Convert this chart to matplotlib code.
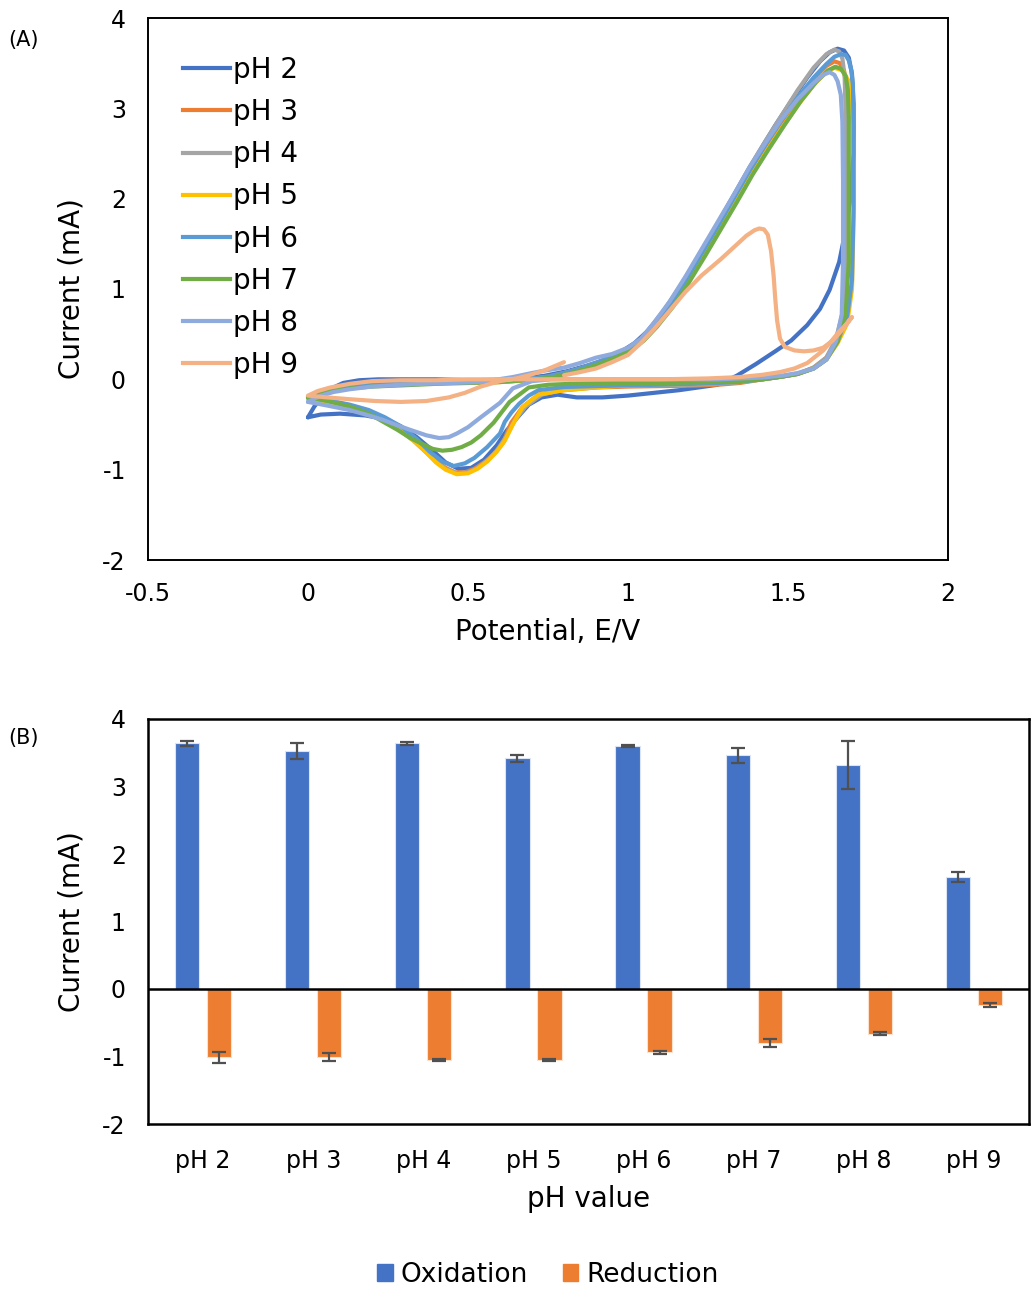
import matplotlib
matplotlib.use("Agg")
import matplotlib.pyplot as plt
from matplotlib.lines import Line2D
from matplotlib.patches import Patch
from matplotlib.ticker import FuncFormatter
import numpy as np

plt.rcParams["font.family"] = ["DejaVu Sans"]
plt.rcParams["axes.unicode_minus"] = False

#Voltametrias ciclicas: potencial (V) e corrente (mA) para cada pH
ph2_E = [0.00, 0.04, 0.10, 0.18, 0.24, 0.29, 0.34, 0.39, 0.43, 0.47, 0.51, 0.55, 0.59, 0.62, 0.65, 0.69, 0.73, 0.78, 0.84, 0.92,
         1.00, 1.08, 1.16, 1.22, 1.28, 1.34, 1.40, 1.46, 1.51, 1.56, 1.60, 1.63, 1.66, 1.68, 1.695, 1.705, 1.705, 1.70, 1.69, 1.675,
         1.655, 1.63, 1.60, 1.56, 1.51, 1.46, 1.41, 1.36, 1.31, 1.26, 1.21, 1.16, 1.11, 1.06, 1.02, 0.98, 0.93, 0.87, 0.81, 0.74,
         0.65, 0.52, 0.40, 0.30, 0.22, 0.16, 0.11, 0.08, 0.05, 0.02, 0.00]
ph2_I = [-0.42, -0.39, -0.38, -0.40, -0.44, -0.52, -0.64, -0.79, -0.92, -0.99, -0.98, -0.89, -0.73, -0.57, -0.44, -0.28, -0.20, -0.17, -0.20, -0.20,
         -0.18, -0.15, -0.12, -0.09, -0.06, 0.04, 0.17, 0.31, 0.43, 0.60, 0.78, 0.99, 1.30, 1.65, 2.00, 2.50, 3.05, 3.38, 3.56, 3.64,
         3.66, 3.62, 3.52, 3.34, 3.08, 2.81, 2.52, 2.22, 1.91, 1.60, 1.30, 1.01, 0.75, 0.53, 0.40, 0.31, 0.22, 0.15, 0.09, 0.04,
         0.00, -0.01, 0.00, 0.00, 0.00, -0.01, -0.04, -0.09, -0.17, -0.30, -0.42]

ph3_E = [0.00, 0.06, 0.13, 0.19, 0.24, 0.29, 0.33, 0.37, 0.40, 0.43, 0.46, 0.49, 0.52, 0.55, 0.58, 0.61, 0.635, 0.67, 0.72, 0.80,
         0.90, 1.00, 1.10, 1.20, 1.28, 1.35, 1.42, 1.48, 1.53, 1.58, 1.62, 1.655, 1.68, 1.685, 1.685, 1.685, 1.682, 1.675, 1.662, 1.645,
         1.62, 1.58, 1.53, 1.48, 1.43, 1.38, 1.33, 1.28, 1.23, 1.18, 1.13, 1.08, 1.04, 1.00, 0.95, 0.90, 0.85, 0.80, 0.75, 0.68,
         0.60, 0.50, 0.40, 0.30, 0.20, 0.13, 0.08, 0.04, 0.00]
ph3_I = [-0.20, -0.24, -0.29, -0.37, -0.46, -0.56, -0.67, -0.80, -0.90, -0.98, -1.03, -1.03, -0.99, -0.92, -0.83, -0.70, -0.48, -0.31, -0.17, -0.12,
         -0.09, -0.08, -0.075, -0.07, -0.06, -0.04, 0.00, 0.03, 0.06, 0.13, 0.24, 0.45, 0.75, 1.30, 2.20, 2.90, 3.25, 3.42, 3.50, 3.52,
         3.47, 3.33, 3.10, 2.84, 2.57, 2.28, 1.97, 1.67, 1.37, 1.08, 0.81, 0.58, 0.43, 0.32, 0.24, 0.17, 0.11, 0.06, 0.02, -0.01,
         -0.03, -0.04, -0.04, -0.05, -0.06, -0.08, -0.11, -0.15, -0.20]

ph4_E = [0.00, 0.06, 0.13, 0.19, 0.24, 0.29, 0.33, 0.37, 0.40, 0.43, 0.465, 0.50, 0.53, 0.56, 0.59, 0.62, 0.645, 0.68, 0.73, 0.80,
         0.90, 1.00, 1.10, 1.20, 1.28, 1.35, 1.42, 1.48, 1.53, 1.58, 1.62, 1.65, 1.672, 1.68, 1.68, 1.68, 1.677, 1.67, 1.66, 1.645,
         1.62, 1.58, 1.53, 1.48, 1.43, 1.38, 1.33, 1.28, 1.23, 1.18, 1.13, 1.08, 1.04, 1.00, 0.95, 0.90, 0.85, 0.80, 0.75, 0.68,
         0.60, 0.50, 0.40, 0.30, 0.20, 0.13, 0.08, 0.04, 0.00]
ph4_I = [-0.19, -0.23, -0.29, -0.37, -0.46, -0.57, -0.68, -0.81, -0.91, -0.99, -1.04, -1.03, -0.98, -0.90, -0.79, -0.63, -0.46, -0.30, -0.17, -0.11,
         -0.08, -0.07, -0.065, -0.06, -0.05, -0.03, 0.00, 0.03, 0.06, 0.13, 0.24, 0.45, 0.75, 1.30, 2.20, 2.95, 3.35, 3.55, 3.63, 3.65,
         3.60, 3.45, 3.20, 2.92, 2.64, 2.35, 2.03, 1.72, 1.42, 1.12, 0.84, 0.60, 0.44, 0.33, 0.25, 0.18, 0.12, 0.07, 0.03, 0.00,
         -0.02, -0.03, -0.03, -0.04, -0.05, -0.07, -0.10, -0.14, -0.19]

ph5_E = [0.00, 0.06, 0.13, 0.19, 0.24, 0.29, 0.33, 0.37, 0.40, 0.43, 0.465, 0.50, 0.53, 0.56, 0.59, 0.615, 0.64, 0.67, 0.72, 0.80,
         0.90, 1.00, 1.10, 1.20, 1.28, 1.35, 1.42, 1.48, 1.53, 1.58, 1.62, 1.655, 1.685, 1.70, 1.705, 1.705, 1.70, 1.69, 1.67, 1.645,
         1.62, 1.58, 1.53, 1.48, 1.43, 1.38, 1.33, 1.28, 1.23, 1.18, 1.13, 1.08, 1.04, 1.00, 0.95, 0.90, 0.85, 0.80, 0.75, 0.68,
         0.60, 0.50, 0.40, 0.30, 0.20, 0.13, 0.08, 0.04, 0.00]
ph5_I = [-0.21, -0.25, -0.30, -0.37, -0.46, -0.57, -0.68, -0.81, -0.92, -1.00, -1.05, -1.04, -0.99, -0.91, -0.80, -0.68, -0.50, -0.31, -0.17, -0.12,
         -0.09, -0.066, -0.06, -0.05, -0.04, -0.03, 0.00, 0.03, 0.06, 0.12, 0.22, 0.40, 0.62, 1.00, 1.80, 2.60, 3.05, 3.30, 3.42, 3.45,
         3.40, 3.26, 3.03, 2.78, 2.51, 2.23, 1.93, 1.63, 1.34, 1.06, 0.80, 0.58, 0.43, 0.32, 0.24, 0.17, 0.11, 0.06, 0.02, -0.01,
         -0.03, -0.04, -0.04, -0.05, -0.06, -0.08, -0.11, -0.15, -0.21]

ph6_E = [0.00, 0.06, 0.13, 0.19, 0.24, 0.29, 0.34, 0.38, 0.42, 0.455, 0.49, 0.52, 0.56, 0.60, 0.615, 0.635, 0.66, 0.69, 0.72, 0.80,
         0.90, 1.00, 1.10, 1.20, 1.28, 1.35, 1.42, 1.48, 1.53, 1.58, 1.62, 1.655, 1.685, 1.70, 1.705, 1.705, 1.703, 1.698, 1.69, 1.68,
         1.665, 1.645, 1.62, 1.58, 1.53, 1.48, 1.43, 1.38, 1.33, 1.28, 1.23, 1.18, 1.13, 1.08, 1.04, 1.00, 0.95, 0.90, 0.85, 0.80,
         0.75, 0.68, 0.60, 0.50, 0.40, 0.30, 0.20, 0.13, 0.08, 0.04, 0.00]
ph6_I = [-0.20, -0.23, -0.28, -0.34, -0.42, -0.52, -0.66, -0.80, -0.91, -0.96, -0.93, -0.87, -0.75, -0.60, -0.47, -0.37, -0.27, -0.18, -0.12, -0.085,
         -0.075, -0.066, -0.06, -0.05, -0.04, -0.03, 0.00, 0.03, 0.06, 0.12, 0.22, 0.42, 0.70, 1.10, 1.90, 2.80, 3.25, 3.42, 3.53, 3.59,
         3.60, 3.57, 3.49, 3.34, 3.12, 2.87, 2.60, 2.31, 2.00, 1.69, 1.39, 1.09, 0.82, 0.59, 0.44, 0.33, 0.25, 0.18, 0.12, 0.07,
         0.03, 0.00, -0.02, -0.03, -0.03, -0.04, -0.05, -0.07, -0.10, -0.14, -0.20]

ph7_E = [0.00, 0.06, 0.13, 0.19, 0.235, 0.28, 0.32, 0.36, 0.39, 0.42, 0.45, 0.48, 0.51, 0.54, 0.58, 0.63, 0.69, 0.75, 0.82, 0.90,
         1.00, 1.10, 1.20, 1.28, 1.35, 1.42, 1.48, 1.53, 1.58, 1.62, 1.655, 1.68, 1.69, 1.69, 1.69, 1.687, 1.68, 1.665, 1.648, 1.625,
         1.59, 1.54, 1.49, 1.44, 1.39, 1.34, 1.29, 1.24, 1.19, 1.14, 1.09, 1.05, 1.01, 0.96, 0.91, 0.86, 0.81, 0.76, 0.68, 0.60,
         0.50, 0.40, 0.30, 0.20, 0.13, 0.08, 0.04, 0.00]
ph7_I = [-0.20, -0.24, -0.30, -0.38, -0.47, -0.56, -0.65, -0.72, -0.77, -0.79, -0.78, -0.75, -0.70, -0.62, -0.48, -0.25, -0.09, -0.06, -0.05, -0.045,
         -0.04, -0.04, -0.035, -0.03, -0.02, 0.00, 0.03, 0.06, 0.12, 0.22, 0.42, 0.72, 1.30, 2.20, 2.90, 3.20, 3.36, 3.44, 3.46, 3.42,
         3.30, 3.08, 2.82, 2.55, 2.27, 1.96, 1.66, 1.36, 1.07, 0.80, 0.58, 0.43, 0.32, 0.24, 0.17, 0.11, 0.06, 0.02, -0.01, -0.03,
         -0.04, -0.05, -0.066, -0.08, -0.10, -0.12, -0.15, -0.20]

ph8_E = [0.00, 0.06, 0.13, 0.19, 0.235, 0.28, 0.32, 0.37, 0.41, 0.44, 0.465, 0.50, 0.54, 0.60, 0.64, 0.70, 0.76, 0.84, 0.92, 1.00,
         1.10, 1.20, 1.28, 1.35, 1.42, 1.48, 1.53, 1.58, 1.62, 1.65, 1.668, 1.672, 1.672, 1.67, 1.665, 1.655, 1.645, 1.63, 1.61, 1.58,
         1.53, 1.48, 1.43, 1.38, 1.33, 1.28, 1.23, 1.18, 1.13, 1.08, 1.04, 1.00, 0.95, 0.90, 0.85, 0.80, 0.745, 0.70, 0.64, 0.54,
         0.45, 0.36, 0.29, 0.20, 0.13, 0.08, 0.04, 0.00]
ph8_I = [-0.25, -0.29, -0.34, -0.40, -0.45, -0.51, -0.56, -0.62, -0.65, -0.64, -0.60, -0.53, -0.42, -0.26, -0.10, -0.02, 0.00, 0.00, 0.00, 0.00,
         0.00, 0.00, 0.00, 0.01, 0.02, 0.04, 0.07, 0.12, 0.22, 0.42, 0.72, 1.30, 2.20, 2.85, 3.15, 3.30, 3.37, 3.40, 3.37, 3.28,
         3.10, 2.88, 2.62, 2.35, 2.04, 1.74, 1.44, 1.14, 0.86, 0.62, 0.45, 0.35, 0.28, 0.24, 0.18, 0.13, 0.10, 0.07, 0.025, -0.03,
         -0.04, -0.05, -0.06, -0.08, -0.11, -0.14, -0.18, -0.25]

ph9_E = [0.80, 0.85, 0.90, 0.95, 1.00, 1.04, 1.08, 1.13, 1.18, 1.23, 1.29, 1.33, 1.37, 1.395, 1.41, 1.425, 1.437, 1.447, 1.455, 1.46,
         1.466, 1.475, 1.49, 1.52, 1.55, 1.58, 1.61, 1.64, 1.67, 1.70, 1.68, 1.66, 1.635, 1.61, 1.585, 1.56, 1.52, 1.475, 1.42, 1.35,
         1.25, 1.10, 0.95, 0.80, 0.65, 0.50, 0.40, 0.29, 0.20, 0.13, 0.07, 0.03, 0.00, 0.06, 0.13, 0.21, 0.29, 0.37, 0.44, 0.49,
         0.54, 0.60, 0.65, 0.69, 0.74, 0.80]
ph9_I = [0.045, 0.08, 0.12, 0.19, 0.27, 0.40, 0.55, 0.76, 0.97, 1.15, 1.33, 1.46, 1.59, 1.65, 1.67, 1.66, 1.60, 1.42, 1.15, 0.90,
         0.65, 0.45, 0.36, 0.32, 0.31, 0.32, 0.35, 0.43, 0.55, 0.69, 0.60, 0.53, 0.42, 0.32, 0.25, 0.18, 0.12, 0.08, 0.05, 0.025,
         0.01, 0.00, 0.00, 0.00, 0.00, 0.00, -0.01, -0.01, -0.02, -0.05, -0.09, -0.13, -0.18, -0.20, -0.22, -0.24, -0.25, -0.24, -0.20, -0.15,
         -0.08, -0.02, 0.01, 0.045, 0.10, 0.19]

rotulos_ph = ["pH 2", "pH 3", "pH 4", "pH 5", "pH 6", "pH 7", "pH 8", "pH 9"]
cores_cv = ["#4472C4", "#ED7D31", "#A5A5A5", "#FFC000", "#5B9BD5", "#70AD47", "#8FAADC", "#F4B183"]

#Correntes de pico medias e desvios
oxidacao = [3.64, 3.53, 3.64, 3.42, 3.60, 3.46, 3.32, 1.66]
oxidacao_erro = [0.04, 0.12, 0.02, 0.05, 0.02, 0.11, 0.35, 0.08]
reducao = [-1.01, -1.01, -1.05, -1.05, -0.94, -0.80, -0.66, -0.24]
reducao_erro = [0.08, 0.06, 0.02, 0.02, 0.02, 0.06, 0.02, 0.03]

curvas = [(ph2_E, ph2_I), (ph3_E, ph3_I), (ph4_E, ph4_I), (ph5_E, ph5_I),
          (ph6_E, ph6_I), (ph7_E, ph7_I), (ph8_E, ph8_I), (ph9_E, ph9_I)]

fig = plt.figure(figsize=(10.31, 12.89), dpi=100)
ax1 = fig.add_axes([148 / 1031, 1 - 560 / 1289, 800 / 1031, 542 / 1289])
ax2 = fig.add_axes([148 / 1031, 1 - 1124 / 1289, 881 / 1031, 405 / 1289])

#(A) voltamogramas
for (E, I), cor, rotulo in zip(curvas, cores_cv, rotulos_ph):
    ax1.plot(E, I, color=cor, lw=3, label=rotulo, solid_joinstyle="round", solid_capstyle="round")

ax1.set_xlim(-0.5, 2)
ax1.set_ylim(-2, 4)
ax1.set_xticks([-0.5, 0, 0.5, 1, 1.5, 2])
ax1.set_yticks([-2, -1, 0, 1, 2, 3, 4])
ax1.xaxis.set_major_formatter(FuncFormatter(lambda v, p: "%g" % v))
ax1.tick_params(length=0, labelsize=17)
ax1.tick_params(axis="x", pad=16)
ax1.tick_params(axis="y", pad=16)
for s in ax1.spines.values():
    s.set_linewidth(1.4)
    s.set_color("black")
ax1.set_xlabel("Potential, E/V", fontsize=20)
ax1.set_ylabel("Current (mA)", fontsize=20)
ax1.xaxis.set_label_coords(0.5, -0.107)
ax1.yaxis.set_label_coords(-0.078, 0.5)

#Legenda com linhas longas, sem moldura
legenda_cv = [Line2D([0], [0], color=c, lw=3) for c in cores_cv]
ax1.legend(legenda_cv, rotulos_ph, loc="upper left", bbox_to_anchor=(0.044, 0.93), frameon=False,
           fontsize=20, handlelength=1.7, handletextpad=0.1, labelspacing=0.51, borderpad=0, borderaxespad=0)

#(B) picos de oxidacao e reducao
x = np.arange(len(rotulos_ph))
largura = 0.22
ax2.bar(x - 0.145, oxidacao, largura, yerr=oxidacao_erro, color="#4472C4", edgecolor="#dbe4f5", linewidth=0.8,
        error_kw=dict(ecolor="#505050", elinewidth=1.6, capsize=5, capthick=1.6), zorder=2)
ax2.bar(x + 0.145, reducao, largura, yerr=reducao_erro, color="#ED7D31", edgecolor="#fbe0cc", linewidth=0.8,
        error_kw=dict(ecolor="#505050", elinewidth=1.6, capsize=5, capthick=1.6), zorder=2)
ax2.axhline(0, color="black", lw=1.8, zorder=3)

ax2.set_xlim(-0.5, 7.5)
ax2.set_ylim(-2, 4)
ax2.set_xticks(x)
ax2.set_xticklabels(rotulos_ph)
ax2.set_yticks([-2, -1, 0, 1, 2, 3, 4])
ax2.tick_params(length=0, labelsize=17)
ax2.tick_params(axis="x", pad=18)
ax2.tick_params(axis="y", pad=16)
for s in ax2.spines.values():
    s.set_linewidth(1.8)
    s.set_color("black")
ax2.set_xlabel("pH value", fontsize=20)
ax2.set_ylabel("Current (mA)", fontsize=20)
ax2.xaxis.set_label_coords(0.5, -0.15)
ax2.yaxis.set_label_coords(-0.071, 0.5)

legenda_barras = [Patch(color="#4472C4"), Patch(color="#ED7D31")]
fig.legend(legenda_barras, ["Oxidation", "Reduction"], loc="center", bbox_to_anchor=(548 / 1031, 1 - 1275 / 1289),
           ncol=2, frameon=False, fontsize=19, handlelength=0.6, handleheight=0.6, handletextpad=0.3,
           columnspacing=1.3, borderpad=0)

fig.text(8 / 1031, 1 - 40 / 1289, "(A)", fontsize=15, ha="left", va="center")
fig.text(8 / 1031, 1 - 738 / 1289, "(B)", fontsize=15, ha="left", va="center")

fig.savefig("out.png", dpi=100)
